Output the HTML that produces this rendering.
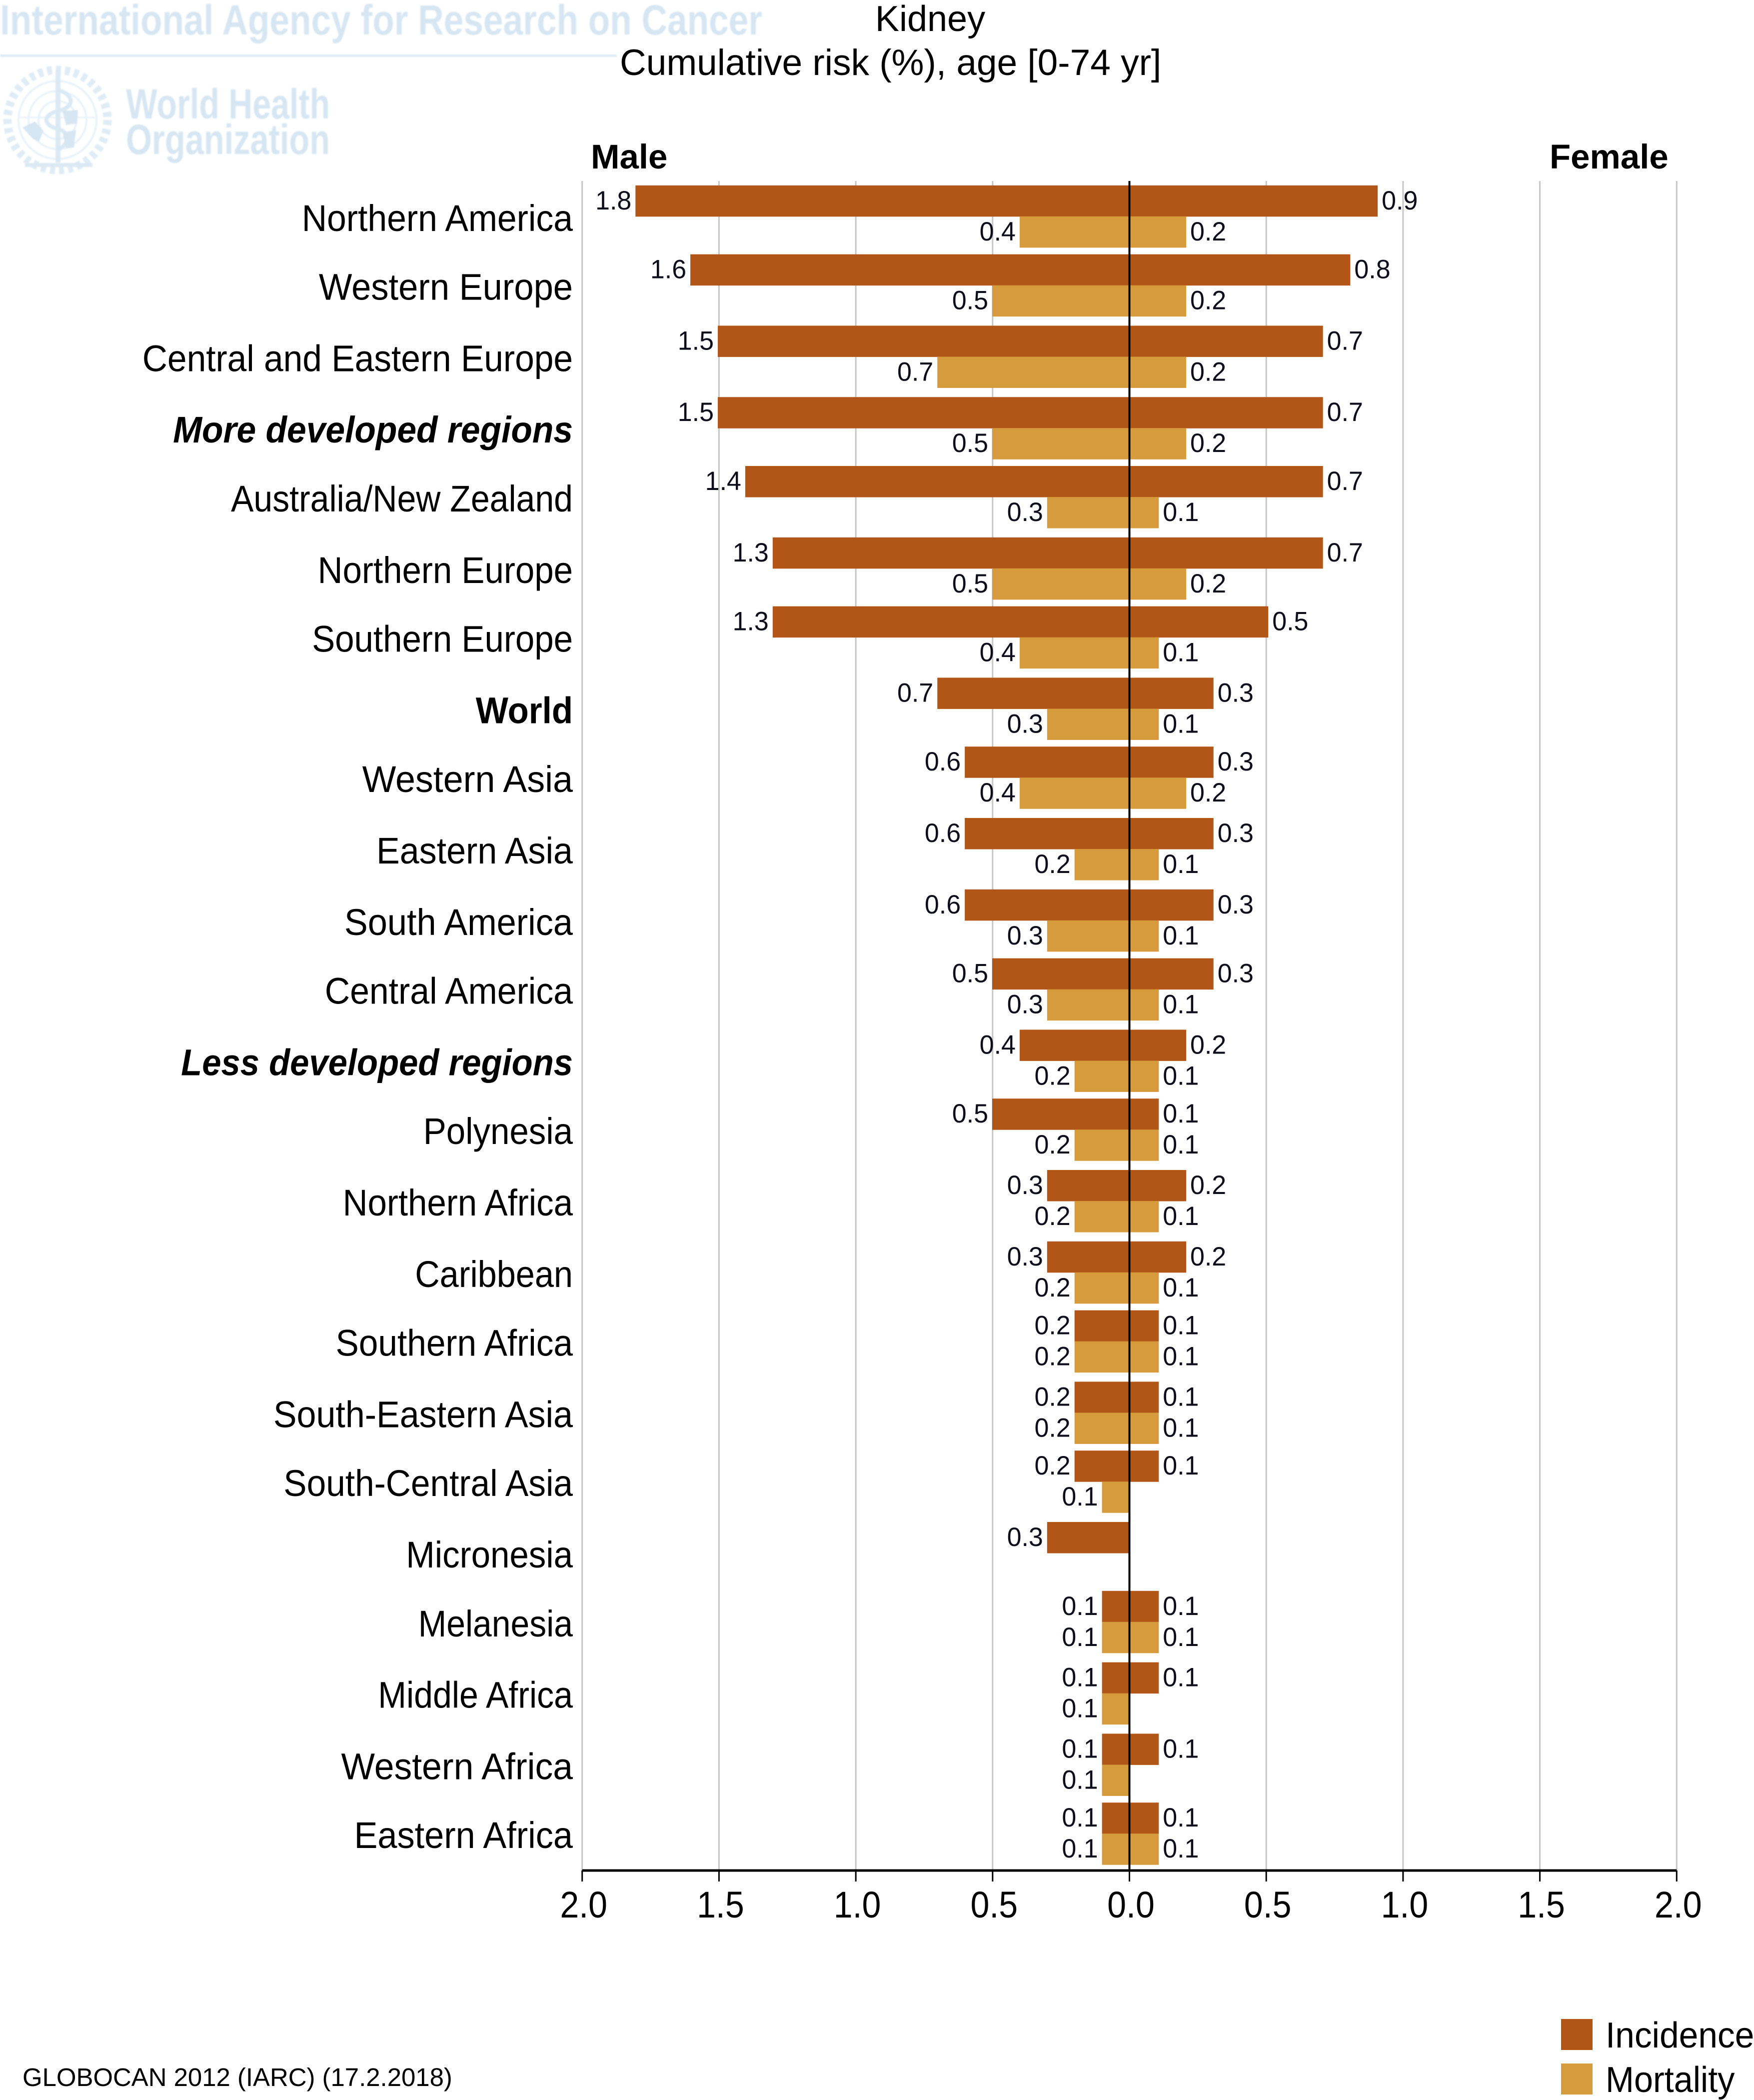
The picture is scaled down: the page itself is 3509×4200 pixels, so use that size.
<!DOCTYPE html>
<html lang="en">
<head>
<meta charset="utf-8">
<title>Kidney cumulative risk</title>
<style>
html,body{margin:0;padding:0;background:#fff;}
svg{display:block;font-family:"Liberation Sans",Arial,sans-serif;}
</style>
</head>
<body>
<svg id="chart" xmlns="http://www.w3.org/2000/svg" width="3509" height="4200" viewBox="0 0 3509 4200">
  <rect x="0" y="0" width="3509" height="4200" fill="#ffffff"/>

  <g fill="#d6e6f2" style="filter:blur(1.2px)">
    <text x="0" y="69" font-size="84" font-weight="bold" textLength="1525" lengthAdjust="spacingAndGlyphs">International Agency for Research on Cancer</text>
    <rect x="0" y="109" width="1234" height="5" fill="#dfecf5"/>
    <g fill="none" stroke="#dbe9f4">
      <circle cx="115" cy="240" r="100" stroke-width="17" stroke-dasharray="10 8" stroke="#e0ecf5"/>
      <circle cx="115" cy="240" r="78" stroke-width="4" stroke="#e9f2f8"/>
      <circle cx="115" cy="240" r="58" stroke-width="4" stroke="#e9f2f8"/>
      <circle cx="115" cy="240" r="38" stroke-width="4" stroke="#e9f2f8"/>
      <line x1="40" y1="235" x2="190" y2="235" stroke-width="3" stroke="#e9f2f8"/>
      <line x1="116" y1="140" x2="116" y2="325" stroke-width="10"/>
      <path d="M116 180 C150 190 150 215 116 222 C85 230 85 250 116 258 C145 266 135 290 116 300" stroke-width="8"/>
      <path d="M50 330 L185 330" stroke-width="8"/>
    </g>
    <path d="M45 255 L70 243 L87 262 L78 283 L66 278 Z"/>
    <path d="M125 222 L156 220 L154 247 L132 250 Z M125 265 L152 260 L148 295 L132 297 Z"/>
    <text x="252" y="237" font-size="84" font-weight="bold" textLength="408" lengthAdjust="spacingAndGlyphs">World Health</text>
    <text x="252" y="308" font-size="84" font-weight="bold" textLength="408" lengthAdjust="spacingAndGlyphs">Organization</text>
  </g>

  <text x="1861" y="62" font-size="72" text-anchor="middle" fill="#000">Kidney</text>
  <text x="1240" y="150" font-size="73" fill="#000">Cumulative risk (%), age [0-74 yr]</text>
  <text x="1182" y="337" font-size="69" font-weight="bold" fill="#000">Male</text>
  <text x="3100" y="337" font-size="69" font-weight="bold" fill="#000">Female</text>

  <g id="grid"></g>
  <g id="bars"></g>
  <g id="labels"></g>
  <g id="cats"></g>
  <g id="axis"></g>

  <text x="45" y="4172" font-size="50.9" fill="#000">GLOBOCAN 2012 (IARC) (17.2.2018)</text>

  <g>
    <rect x="3123" y="4038" width="63" height="62" fill="#b25618"/>
    <text transform="translate(3212 4095) scale(0.965 1)" font-size="72" fill="#000">Incidence</text>
    <rect x="3123" y="4127" width="63" height="62" fill="#d59b3d"/>
    <text transform="translate(3212 4184) scale(0.95 1)" font-size="72" fill="#000">Mortality</text>
  </g>
</svg>

<script>
var categories = ["Northern America","Western Europe","Central and Eastern Europe","More developed regions","Australia/New Zealand","Northern Europe","Southern Europe","World","Western Asia","Eastern Asia","South America","Central America","Less developed regions","Polynesia","Northern Africa","Caribbean","Southern Africa","South-Eastern Asia","South-Central Asia","Micronesia","Melanesia","Middle Africa","Western Africa","Eastern Africa"];
var boldItalicCategories = ["More developed regions","Less developed regions"];
var boldCategories = ["World"];
var maleIncidence = [1.8,1.6,1.5,1.5,1.4,1.3,1.3,0.7,0.6,0.6,0.6,0.5,0.4,0.5,0.3,0.3,0.2,0.2,0.2,0.3,0.1,0.1,0.1,0.1];
var maleMortality = [0.4,0.5,0.7,0.5,0.3,0.5,0.4,0.3,0.4,0.2,0.3,0.3,0.2,0.2,0.2,0.2,0.2,0.2,0.1,null,0.1,0.1,0.1,0.1];
var femaleIncidence = [0.9,0.8,0.7,0.7,0.7,0.7,0.5,0.3,0.3,0.3,0.3,0.3,0.2,0.1,0.2,0.2,0.1,0.1,0.1,null,0.1,0.1,0.1,0.1];
var femaleMortality = [0.2,0.2,0.2,0.2,0.1,0.2,0.1,0.1,0.2,0.1,0.1,0.1,0.1,0.1,0.1,0.1,0.1,0.1,null,null,0.1,null,null,0.1];
var maleTicks = [2.0,1.5,1.0,0.5];
var femaleTicks = [0.5,1.0,1.5,2.0];

var NS = "http://www.w3.org/2000/svg";
var ZERO_X = 2259.5, UNIT = 547.4, MALE_BAR_UNIT = 549, FEMALE_BAR_PAD = 4;
var PLOT_TOP = 362, AXIS_Y = 3741, TICK_END = 3763;
var BAR_H = 62, INC = "#b25618", MORT = "#d59b3d";
var LABEL_SCALE = 0.933;
var labelFit = {
  "Northern America":0.942,"Western Europe":0.953,"Central and Eastern Europe":0.939,
  "More developed regions":0.94,"Less developed regions":0.93,
  "Australia/New Zealand":0.919,"Western Asia":0.97,"Eastern Asia":0.946,
  "South America":0.95,"Central America":0.943,"Caribbean":0.925,"Southern Africa":0.938,
  "South-Eastern Asia":0.946,"South-Central Asia":0.938,"Melanesia":0.917,
  "Middle Africa":0.92,"Western Africa":0.966,"Eastern Africa":0.95
};

function maleX(v){ return ZERO_X - v * UNIT; }
function femaleX(v){ return ZERO_X + v * UNIT; }
function maleBarX(v){ return ZERO_X - v * MALE_BAR_UNIT; }
function femaleBarX(v){ return femaleX(v) + FEMALE_BAR_PAD; }
/* row band: source image snapped rows to whole pixels, giving two alternating pitches */
function rowY(i){ return 370.8 + 137.8 * i + 5 * Math.round(i * 0.58 - 0.17); }

function make(tag, parent, attrs, text){
  var el = document.createElementNS(NS, tag);
  for (var k in attrs) el.setAttribute(k, attrs[k]);
  if (text !== undefined) el.textContent = text;
  parent.appendChild(el);
  return el;
}

var gridG = document.getElementById("grid");
var barsG = document.getElementById("bars");
var labelsG = document.getElementById("labels");
var catsG = document.getElementById("cats");
var axisG = document.getElementById("axis");

function addGrid(x, key){
  var ln = make("line", gridG, {x1:x, x2:x, y1:PLOT_TOP, y2:AXIS_Y, stroke:"#c6c6c6", "stroke-width":3});
  
  
}
function addTick(x, v, key){
  var t = make("line", axisG, {x1:x, x2:x, y1:AXIS_Y, y2:TICK_END, stroke:"#000", "stroke-width":3});
  
  
  var lab = make("text", axisG, {transform:"translate(" + (x + 3) + " 3835) scale(0.92 1)", "font-size":74, "text-anchor":"middle", fill:"#000"}, v.toFixed(1));
  
  
}

maleTicks.forEach(function(v){
  addGrid(maleX(v), "male-" + v);
  addTick(maleX(v), v, "male-" + v);
});
femaleTicks.forEach(function(v){
  addGrid(femaleX(v), "female-" + v);
  addTick(femaleX(v), v, "female-" + v);
});
addTick(ZERO_X, 0, "zero");

function addBar(v, side, y, fill, key){
  if (v === null) return;
  var end = side === "male" ? maleBarX(v) : femaleBarX(v);
  var x0 = side === "male" ? end : ZERO_X;
  var w = side === "male" ? ZERO_X - end : end - ZERO_X;
  var r = make("rect", barsG, {x:x0, y:y, width:w, height:BAR_H + 0.5, fill:fill});
  
  
  var lx = side === "male" ? end - 8 : end + 8;
  var t = make("text", labelsG, {
    transform:"translate(" + lx + " " + (y + 48) + ") scale(0.98 1)",
    "font-size":53, fill:"#0c0c1a",
    "text-anchor": side === "male" ? "end" : "start"
  }, v.toFixed(1));
  
  
}

categories.forEach(function(name, i){
  var y = rowY(i);
  var slug = name.toLowerCase().replace(/[^a-z]+/g, "-");
  addBar(maleIncidence[i], "male", y, INC, "male-incidence-" + slug);
  addBar(maleMortality[i], "male", y + BAR_H, MORT, "male-mortality-" + slug);
  addBar(femaleIncidence[i], "female", y, INC, "female-incidence-" + slug);
  addBar(femaleMortality[i], "female", y + BAR_H, MORT, "female-mortality-" + slug);

  var isBI = boldItalicCategories.indexOf(name) >= 0;
  var isB = boldCategories.indexOf(name) >= 0;
  var sx = labelFit[name] || LABEL_SCALE;
  var a = {
    transform:"translate(1146 " + (y + 91) + ") scale(" + sx + " 1)",
    "font-size":74, "text-anchor":"end", fill:"#000"
  };
  if (isBI || isB) a["font-weight"] = "bold";
  if (isBI) a["font-style"] = "italic";
  var c = make("text", catsG, a, name);
  
  
});

var zero = make("line", axisG, {x1:ZERO_X, x2:ZERO_X, y1:PLOT_TOP, y2:AXIS_Y, stroke:"#000", "stroke-width":4});



var base = make("line", axisG, {x1:maleX(2), x2:femaleX(2), y1:AXIS_Y, y2:AXIS_Y, stroke:"#000", "stroke-width":5});


</script>
</body>
</html>
